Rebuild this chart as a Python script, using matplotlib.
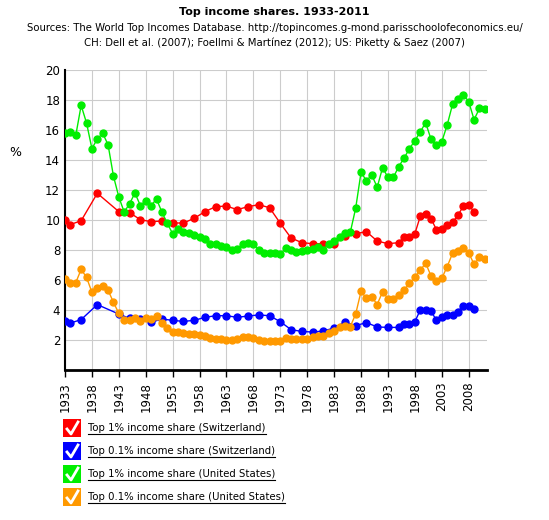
import matplotlib
matplotlib.use("Agg")
import matplotlib.pyplot as plt
from matplotlib.patches import Rectangle
import numpy as np

ch_years = [1933,1934,1936,1939,1943,1945,1947,1949,1951,1953,1955,1957,1959,1961,1963,1965,1967,1969,1971,1973,1975,1977,1979,1981,1983,1985,1987,1989,1991,1993,1995,1996,1997,1998,1999,2000,2001,2002,2003,2004,2005,2006,2007,2008,2009]
ch_top1 = [10.0,9.7,9.95,11.78,10.56,10.49,10.02,9.89,9.93,9.8,9.8,10.11,10.56,10.89,10.93,10.69,10.89,11.02,10.82,9.78,8.8,8.49,8.42,8.42,8.42,8.95,9.09,9.22,8.6,8.42,8.49,8.87,8.89,9.09,10.24,10.42,10.09,9.36,9.38,9.67,9.84,10.31,10.93,10.98,10.56]
ch_top01 = [3.27,3.13,3.36,4.36,3.73,3.44,3.4,3.18,3.4,3.31,3.24,3.31,3.51,3.62,3.62,3.51,3.6,3.67,3.62,3.22,2.69,2.57,2.53,2.6,2.8,3.2,2.96,3.16,2.87,2.84,2.84,3.04,3.09,3.22,4.0,4.0,3.91,3.33,3.53,3.64,3.67,3.89,4.29,4.27,4.07]
us_years = list(range(1933, 2012))
us_top1 = [15.8,15.89,15.64,17.64,16.47,14.76,15.4,15.78,15.02,12.93,11.53,10.53,11.09,11.8,10.96,11.29,10.96,11.4,10.53,9.78,9.09,9.4,9.2,9.11,9.02,8.84,8.76,8.42,8.38,8.29,8.18,8.02,8.09,8.4,8.47,8.38,8.02,7.82,7.82,7.8,7.73,8.11,8.0,7.89,7.93,7.98,8.07,8.22,8.02,8.42,8.58,8.89,9.11,9.18,10.78,13.18,12.62,13.0,12.18,13.49,12.84,12.84,13.56,14.13,14.76,15.29,15.87,16.49,15.38,14.98,15.22,16.33,17.71,18.07,18.36,17.89,16.69,17.44,17.42]
us_top01 = [6.09,5.82,5.82,6.71,6.18,5.18,5.47,5.58,5.33,4.51,3.78,3.36,3.36,3.47,3.24,3.47,3.4,3.58,3.16,2.78,2.51,2.56,2.49,2.4,2.38,2.31,2.24,2.11,2.09,2.04,2.0,2.0,2.04,2.18,2.2,2.13,2.0,1.93,1.93,1.93,1.93,2.13,2.09,2.05,2.04,2.09,2.18,2.24,2.27,2.44,2.62,2.89,2.96,2.89,3.73,5.24,4.78,4.89,4.36,5.22,4.76,4.76,4.98,5.33,5.78,6.2,6.64,7.13,6.27,5.96,6.11,6.89,7.78,7.96,8.16,7.82,7.04,7.51,7.38]
labels = ["Top 1% income share (Switzerland)", "Top 0.1% income share (Switzerland)",
          "Top 1% income share (United States)", "Top 0.1% income share (United States)"]
colors = ["#ff0000", "#0000ff", "#00ee00", "#ff9900"]
xticks = list(range(1933, 2009, 5))
yticks = list(range(2, 21, 2))

fig = plt.figure(figsize=(5.49, 5.2), dpi=100)
ax = fig.add_axes([65/549, 150/520, 422/549, 300/520])
series = [(ch_years, ch_top1), (ch_years, ch_top01), (us_years, us_top1), (us_years, us_top01)]
for (x, y), c in zip(series, colors):
    ax.plot(x, y, color=c, lw=1, marker='o', ms=5, mec=c, mfc=c, zorder=3)
ax.set_xlim(1933, 2011.4)
ax.set_ylim(0, 20)
ax.set_xticks(xticks)
ax.set_xticklabels([str(t) for t in xticks], rotation=90, fontsize=8.5)
ax.set_yticks(yticks)
ax.set_yticklabels([str(t) for t in yticks], fontsize=8.5)
ax.grid(True, color="#cccccc", lw=0.8)
ax.set_axisbelow(True)
for s in ["top", "right"]:
    ax.spines[s].set_visible(False)
ax.spines["left"].set_linewidth(1.5)
ax.spines["bottom"].set_linewidth(2)
ax.tick_params(axis='y', length=0)
ax.tick_params(axis='x', length=5, width=1)
fig.text(15/549, 1-152/520, "%", fontsize=9, ha='center', va='center')

fig.text(0.5, 1-12/520, "Top income shares. 1933-2011", fontsize=8, fontweight='bold', ha='center', va='center')
fig.text(0.5, 1-28/520, "Sources: The World Top Incomes Database. http://topincomes.g-mond.parisschoolofeconomics.eu/",
         fontsize=7.3, ha='center', va='center')
fig.text(0.5, 1-43/520, "CH: Dell et al. (2007); Foellmi & Martínez (2012); US: Piketty & Saez (2007)",
         fontsize=7.3, ha='center', va='center')

for i, (lab, c) in enumerate(zip(labels, colors)):
    yc = 428 + i * 23
    fig.patches.append(Rectangle((63/549, 1-(yc+9)/520), 18/549, 18/520, transform=fig.transFigure,
                                 facecolor=c, edgecolor='none'))
    fig.lines.append(plt.Line2D([67/549, 71/549, 78/549], [1-(yc+1)/520, 1-(yc+6)/520, 1-(yc-6)/520],
                                transform=fig.transFigure, color='white', lw=2))
    t = fig.text(88/549, 1-yc/520, lab, fontsize=7.3, ha='left', va='center')
    fig.canvas.draw()
    bb = t.get_window_extent()
    fig.lines.append(plt.Line2D([bb.x0/549, bb.x1/549], [(bb.y0-1)/520, (bb.y0-1)/520],
                                transform=fig.transFigure, color='black', lw=0.8))

fig.savefig("out.png", dpi=100)
